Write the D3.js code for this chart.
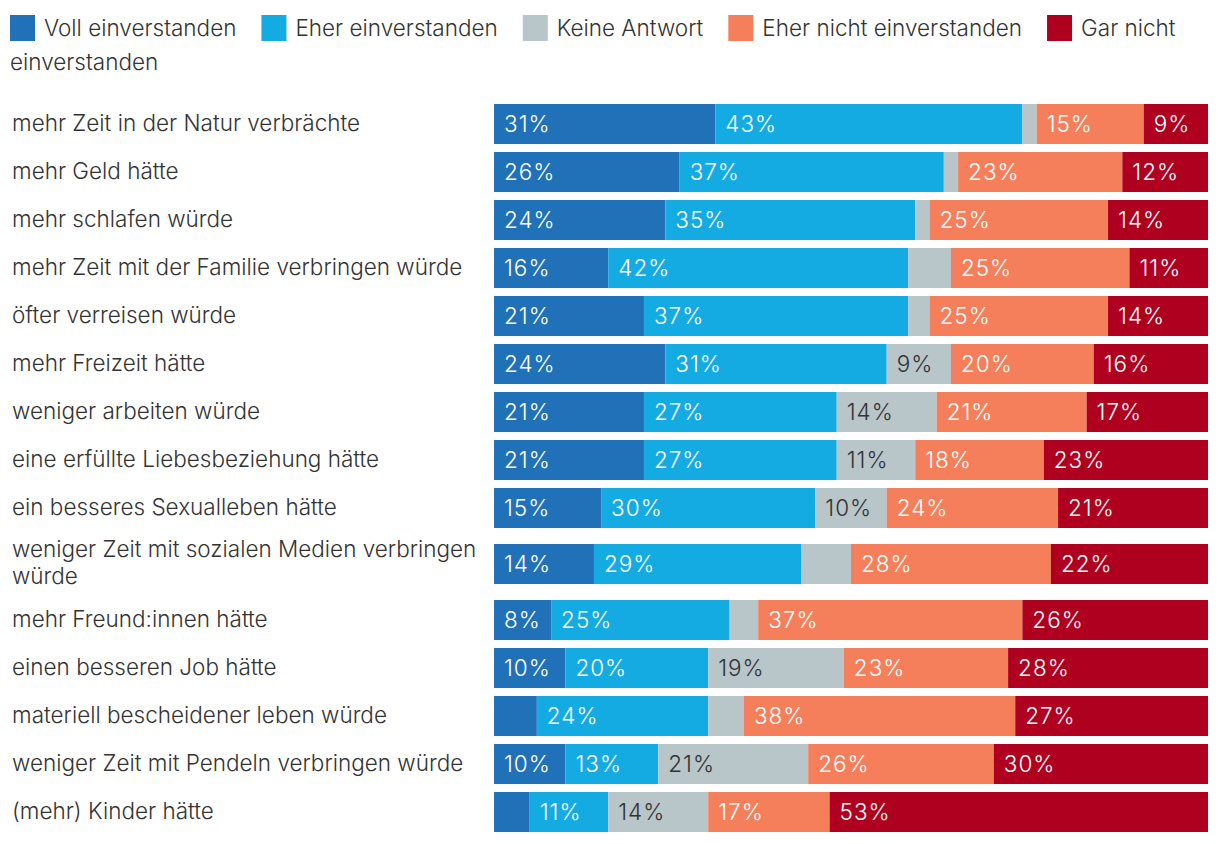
<!DOCTYPE html>
<html><head><meta charset="utf-8">
<script src="https://cdn.jsdelivr.net/npm/d3@7"></script>
<style>
html,body{margin:0;padding:0;background:#fff;}
svg text{font-family:Inter,Roboto,"Noto Sans",sans-serif;font-weight:300;}
</style></head>
<body><svg id="c" width="1220" height="844"></svg>
<script>
const categories = ["mehr Zeit in der Natur verbrächte","mehr Geld hätte","mehr schlafen würde","mehr Zeit mit der Familie verbringen würde","öfter verreisen würde","mehr Freizeit hätte","weniger arbeiten würde","eine erfüllte Liebesbeziehung hätte","ein besseres Sexualleben hätte","weniger Zeit mit sozialen Medien verbringen würde","mehr Freund:innen hätte","einen besseren Job hätte","materiell bescheidener leben würde","weniger Zeit mit Pendeln verbringen würde","(mehr) Kinder hätte"];
const seriesNames = ["Voll einverstanden","Eher einverstanden","Keine Antwort","Eher nicht einverstanden","Gar nicht einverstanden"];
const voll      = [31,26,24,16,21,24,21,21,15,14,8,10,6,10,5];
const eher      = [43,37,35,42,37,31,27,27,30,29,25,20,24,13,11];
const keine     = [2,2,2,6,3,9,14,11,10,7,4,19,5,21,14];
const eherNicht = [15,23,25,25,25,20,21,18,24,28,37,23,38,26,17];
const garNicht  = [9,12,14,11,14,16,17,23,21,22,26,28,27,30,53];
const colors = ["#2171b9","#14abe3","#b8c5c9","#f47f5a","#b0001f"];
const labelColors = ["#fff","#fff","#333","#fff","#fff"];

const svg = d3.select("#c");
const FS = 22.5;
const series = [voll,eher,keine,eherNicht,garNicht];

// Legend
const lg = svg.append("g");
let lx = 10, ly = 28;
const maxX = 1210;
seriesNames.forEach((name,i)=>{
  if (lx + 26 > maxX) { lx = 10; ly += 34; }
  lg.append("rect").attr("x",lx).attr("y",ly-13).attr("width",25).attr("height",26).attr("fill",colors[i]);
  lx += 34;
  const words = name.split(" ");
  let t = lg.append("text").attr("x",lx).attr("y",ly).attr("dy","0.35em").attr("font-size",FS).attr("fill","#333");
  let line = [];
  for (const w of words) {
    line.push(w);
    t.text(line.join(" "));
    if (lx + t.node().getComputedTextLength() > maxX && line.length>1) {
      line.pop(); t.text(line.join(" "));
      lx = 10; ly += 34;
      t = lg.append("text").attr("x",lx).attr("y",ly).attr("dy","0.35em").attr("font-size",FS).attr("fill","#333");
      line = [w]; t.text(w);
    }
  }
  lx += t.node().getComputedTextLength() + 25;
});

// Rows
const x = d3.scaleLinear().domain([0,100]).range([494,1208]);
const labelMax = 484;
const g = svg.append("g");
const rowsLines = categories.map(c=>{
  const tmp = g.append("text").attr("font-size",FS);
  const words = c.split(" "); const lines=[]; let line=[];
  for (const w of words){ line.push(w); tmp.text(line.join(" "));
    if (12+tmp.node().getComputedTextLength()>labelMax && line.length>1){ line.pop(); lines.push(line.join(" ")); line=[w]; } }
  lines.push(line.join(" ")); tmp.remove(); return lines;
});
const heights = rowsLines.map(l=>48 + (l.length-1)*16);
const tops = d3.cumsum([0,...heights]).map(v=>v+100);
const yTop = d3.scaleOrdinal().domain(categories).range(categories.map((c,i)=>tops[i]));
const stack = d3.stack().keys(d3.range(5))(categories.map((c,i)=>{const o={};series.forEach((s,k)=>o[k]=s[i]);return o;}));

categories.forEach((c,i)=>{
  const cy = yTop(c) + heights[i]/2;
  const lines = rowsLines[i];
  lines.forEach((ln,j)=>{
    g.append("text").attr("x",12).attr("y",cy - 1 + (j-(lines.length-1)/2)*27).attr("dy","0.35em")
      .attr("font-size",FS).attr("fill","#333").text(ln);
  });
  stack.forEach((layer,k)=>{
    const d = layer[i];
    g.append("rect").attr("x",x(d[0])).attr("y",cy-20).attr("width",x(d[1])-x(d[0])).attr("height",40).attr("fill",colors[k]);
    const v = series[k][i];
    if (v>=8) g.append("text").attr("x",x(d[0])+10).attr("y",cy).attr("dy","0.35em").attr("font-size",FS)
      .attr("letter-spacing",1).attr("fill",labelColors[k]).text(v+"%");
  });
});
</script></body></html>
